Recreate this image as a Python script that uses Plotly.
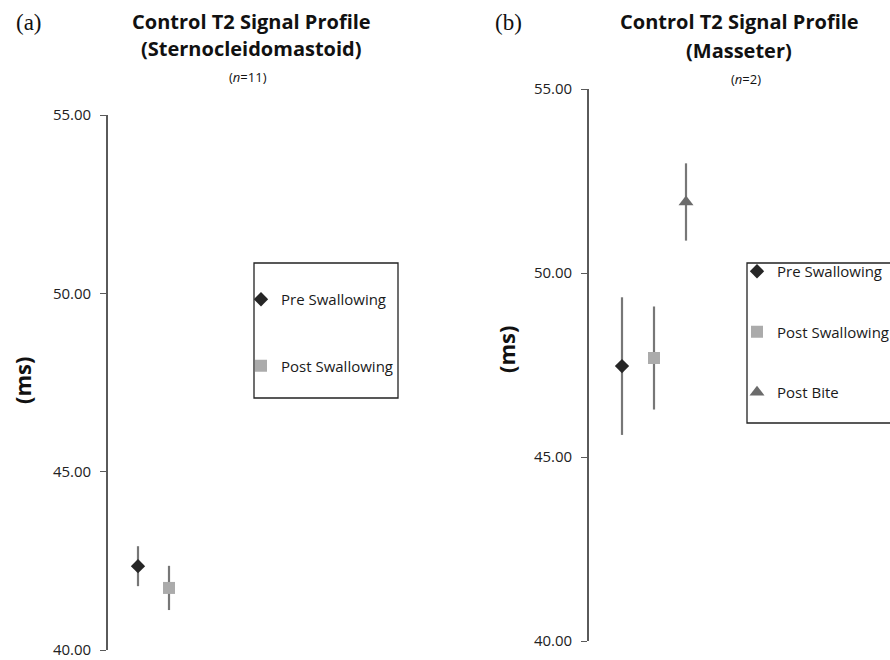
import plotly.graph_objects as go

# ---- data ----
cats_a = ["Pre Swallowing", "Post Swallowing"]
mean_a = [42.35, 41.74]
err_a = [0.56, 0.62]

cats_b = ["Pre Swallowing", "Post Swallowing", "Post Bite"]
mean_b = [47.47, 47.69, 51.93]
err_b = [1.87, 1.40, 1.05]

yticks = [40, 45, 50, 55]

symbols = {"Pre Swallowing": "diamond", "Post Swallowing": "square", "Post Bite": "triangle-up"}
colors = {"Pre Swallowing": "#262626", "Post Swallowing": "#ababab", "Post Bite": "#6b6b6b"}
sizes = {"Pre Swallowing": 11, "Post Swallowing": 12, "Post Bite": 13}

W, H = 890, 660
fig = go.Figure()

def add_panel(cats, means, errs, xa, ya, legend):
    for c, m, e in zip(cats, means, errs):
        fig.add_trace(go.Scatter(
            x=[c], y=[m], mode="markers", name=c,
            xaxis=xa, yaxis=ya, legend=legend, legendgroup=legend + c,
            marker=dict(symbol=symbols[c], color=colors[c], size=sizes[c], line=dict(width=0)),
            error_y=dict(type="data", array=[e], visible=True, width=0, thickness=2.2, color="#777777"),
        ))

add_panel(cats_a, mean_a, err_a, "x", "y", "legend")
add_panel(cats_b, mean_b, err_b, "x2", "y2", "legend2")

font_main = "'Open Sans', sans-serif"

# pixel geometry -> domains
ax_a_left, ax_a_right = 108, 440
ax_b_left, ax_b_right = 589, 890
step_a = 31.0
step_b = 32.0
off_a = 30.0
off_b = 33.0

def yaxis_common(top_px, bot_px):
    return dict(
        domain=[(H - bot_px) / H, (H - top_px) / H],
        range=[40, 55], tickvals=yticks, tickformat=".2f",
        showgrid=False, zeroline=False, showline=True, linecolor="#5a5a5a", linewidth=1.6,
        ticks="outside", ticklen=6, tickwidth=1.2, tickcolor="#5a5a5a",
        tickfont=dict(family=font_main, size=15, color="#222222"),
        ticklabelstandoff=6, automargin=False,
    )

def xaxis_common(left_px, right_px, step, off, cats):
    w = right_px - left_px
    r0 = -off / step
    return dict(
        domain=[left_px / W, right_px / W], type="category", categoryorder="array",
        categoryarray=cats, range=[r0, r0 + w / step], visible=False, showgrid=False,
        automargin=False,
    )

fig.update_layout(
    template="none",
    width=W, height=H, margin=dict(l=0, r=0, t=0, b=0, pad=0, autoexpand=False),
    paper_bgcolor="white", plot_bgcolor="rgba(0,0,0,0)",
    xaxis=xaxis_common(ax_a_left, ax_a_right, step_a, off_a, cats_a),
    yaxis=dict(anchor="x", **yaxis_common(115, 650)),
    xaxis2=xaxis_common(ax_b_left, ax_b_right, step_b, off_b, cats_b),
    yaxis2=dict(anchor="x2", **yaxis_common(89, 641)),
    legend=dict(x=241 / W, y=(H - 283) / H, xanchor="left", yanchor="top",
                bgcolor="rgba(0,0,0,0)", borderwidth=0, tracegroupgap=44,
                font=dict(family=font_main, size=15, color="#1a1a1a"), itemwidth=30),
    legend2=dict(x=737 / W, y=(H - 255) / H, xanchor="left", yanchor="top",
                 bgcolor="rgba(0,0,0,0)", borderwidth=0, tracegroupgap=38,
                 font=dict(family=font_main, size=15, color="#1a1a1a"), itemwidth=30),
    showlegend=True,
)

# legend boxes
fig.add_shape(type="rect", xref="paper", yref="paper",
              x0=254 / W, x1=398 / W, y0=(H - 398) / H, y1=(H - 263) / H,
              line=dict(color="#222222", width=1.3), fillcolor="rgba(0,0,0,0)")
fig.add_shape(type="rect", xref="paper", yref="paper",
              x0=747 / W, x1=900 / W, y0=(H - 423) / H, y1=(H - 263) / H,
              line=dict(color="#222222", width=1.3), fillcolor="rgba(0,0,0,0)")

def ann(text, x, y, size, bold=False, family=font_main, color="#111111", angle=0):
    fig.add_annotation(text=("<b>%s</b>" % text) if bold else text, xref="paper", yref="paper",
                       x=x / W, y=(H - y) / H, showarrow=False, xanchor="center", yanchor="middle",
                       font=dict(family=family, size=size, color=color), textangle=angle)

# panel (a)
ann("(a)", 29, 23, 23, family="'Liberation Serif', serif")
ann("Control T2 Signal Profile", 251, 22, 20, bold=True)
ann("(Sternocleidomastoid)", 251, 49, 20, bold=True)
ann("(<i>n</i>=11)", 248, 77, 13)
ann("(ms)", 22, 381, 22, bold=True, angle=-90)

# panel (b)
ann("(b)", 508, 23, 23, family="'Liberation Serif', serif")
ann("Control T2 Signal Profile", 739, 22, 20, bold=True)
ann("(Masseter)", 739, 50, 20, bold=True)
ann("(<i>n</i>=2)", 746, 79, 13)
ann("(ms)", 506, 350, 22, bold=True, angle=-90)

fig.write_html("out.html", config={"displayModeBar": False},
               post_script="document.body.style.margin='0px';")
